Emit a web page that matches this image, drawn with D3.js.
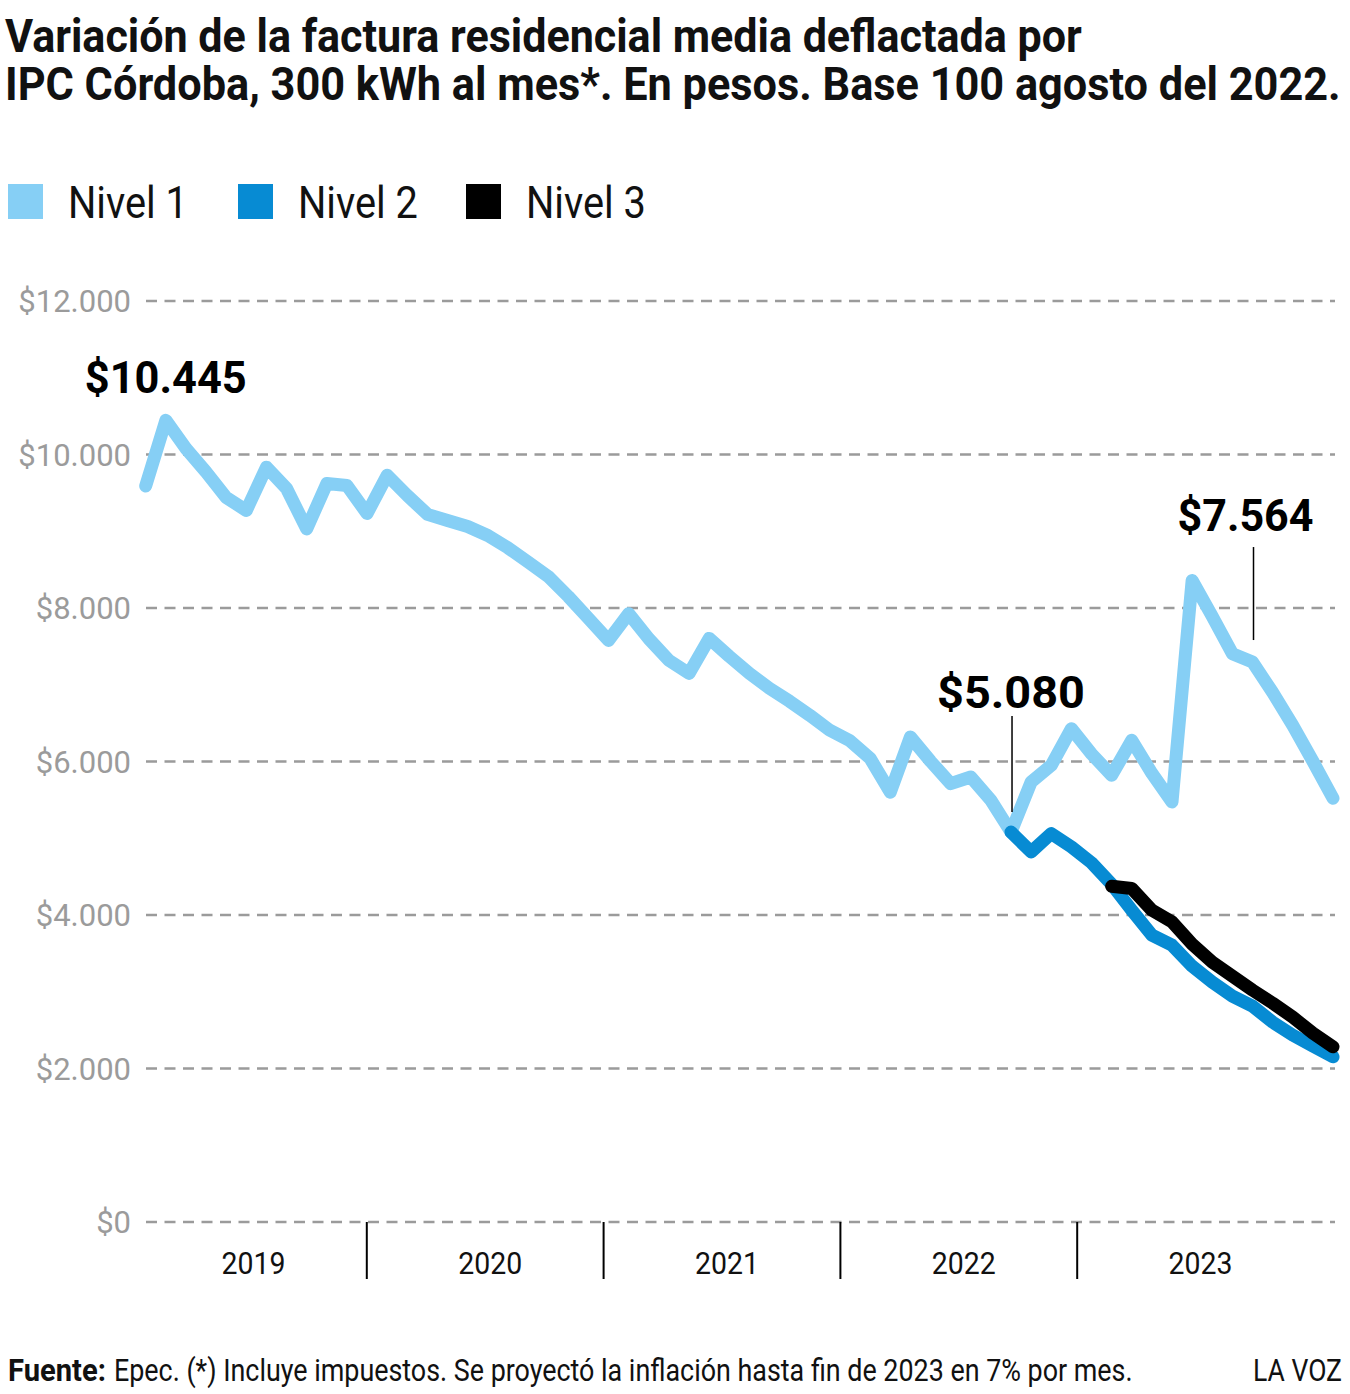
<!DOCTYPE html>
<html>
<head>
<meta charset="utf-8">
<script src="https://cdn.jsdelivr.net/npm/d3@7"></script>
<style>
  body { margin: 0; background: #fff; }
  svg { display: block; font-family: Roboto, "Noto Sans", sans-serif; }
</style>
</head>
<body>
<svg id="chart" width="1350" height="1394"></svg>
<script>
// data (monthly, Jan 2019 - Dec 2023)
const years = ["2019", "2020", "2021", "2022", "2023"];
const yTicks = [0, 2000, 4000, 6000, 8000, 10000, 12000];

const nivel1 = [
  9590, 10445, 10078, 9771, 9440, 9271, 9835, 9557, 9030, 9622, 9596, 9232,
  9730, 9466, 9220, 9140, 9062, 8945, 8784, 8600, 8411, 8150, 7865, 7578,
  7926, 7599, 7318, 7148, 7604, 7370, 7148, 6953, 6784, 6602, 6406, 6270,
  6040, 5600, 6319, 6003, 5712, 5798, 5495, 5080, 5733, 5950, 6428, 6100,
  5820, 6276, 5846, 5473, 8359, 7890, 7405, 7296, 6900, 6471, 6003, 5521
];
// Nivel 2 from Aug 2022, Nivel 3 from Jan 2023
const nivel2Start = "2022-08";
const nivel2 = [5080, 4822, 5061, 4888, 4681, 4401, 4062, 3737, 3607, 3333,
  3125, 2943, 2812, 2604, 2435, 2292, 2152];
const nivel3Start = "2023-01";
const nivel3 = [4375, 4345, 4062, 3910, 3620, 3385, 3203, 3021, 2852, 2669,
  2461, 2283];

const callouts = [
  { label: "$10.445", month: "2019-02", value: 10445 },
  { label: "$5.080", month: "2022-08", value: 5080 },
  { label: "$7.564", month: "2023-08", value: 7296 }
];

const titleLines = [
  "Variación de la factura residencial media deflactada por",
  "IPC Córdoba, 300 kWh al mes*. En pesos. Base 100 agosto del 2022."
];
const seriesNames = ["Nivel 1", "Nivel 2", "Nivel 3"];
const colors = ["#86cff5", "#078bd3", "#000000"];

const months = years.flatMap(y => d3.range(1, 13).map(m => y + "-" + String(m).padStart(2, "0")));

function toPoints(values, start) {
  const i0 = months.indexOf(start);
  return values.map((v, i) => ({ month: months[i0 + i], value: v }));
}
const series = [
  toPoints(nivel1, months[0]),
  toPoints(nivel2, nivel2Start),
  toPoints(nivel3, nivel3Start)
];

const svg = d3.select("#chart");

// squeeze text horizontally to a measured width (the original face is condensed)
function fit(sel, w) {
  sel.each(function () {
    const len = this.getComputedTextLength();
    const ax = +this.getAttribute("x");
    const s = w / len;
    d3.select(this).attr("transform",
      "translate(" + ax + ",0) scale(" + s + ",1) translate(" + (-ax) + ",0)");
  });
  return sel;
}

const x = d3.scalePoint().domain(months).range([145.7, 1333]);
const y = d3.scaleLinear().domain([0, 12000]).range([1222, 301]);
const yearBand = d3.scaleBand().domain(years).range([130, 1314]);

// title
const titleW = [1077, 1336];
svg.append("g").selectAll("text")
  .data(titleLines)
  .enter().append("text")
  .attr("x", 5)
  .attr("y", (d, i) => 52 + i * 48)
  .attr("font-size", 46)
  .attr("font-weight", 700)
  .attr("fill", "#111")
  .text(d => d)
  .each(function (d, i) { fit(d3.select(this), titleW[i]); });

// legend
const legX = [8, 238, 466];
const leg = svg.append("g").selectAll("g")
  .data(seriesNames)
  .enter().append("g")
  .attr("transform", (d, i) => "translate(" + legX[i] + ",184)");
leg.append("rect")
  .attr("width", 35).attr("height", 35)
  .attr("fill", (d, i) => colors[i]);
leg.append("text")
  .attr("x", 60).attr("y", 34)
  .attr("font-size", 44)
  .attr("fill", "#111")
  .text(d => d)
  .each(function () { fit(d3.select(this), 120); });

// grid + y labels
const grid = svg.append("g");
grid.selectAll("line")
  .data(yTicks)
  .enter().append("line")
  .attr("x1", 146).attr("x2", 1335)
  .attr("y1", d => y(d)).attr("y2", d => y(d))
  .attr("stroke", "#9b9b9b")
  .attr("stroke-width", 2.5)
  .attr("stroke-dasharray", "11,7.5");
grid.selectAll("text")
  .data(yTicks)
  .enter().append("text")
  .attr("x", 131)
  .attr("y", d => y(d) + 11)
  .attr("text-anchor", "end")
  .attr("font-size", 31)
  .attr("fill", "#9b9b9b")
  .text(d => "$" + d3.format(",")(d).replace(/,/g, "."));

// x axis: year separators and labels
const xa = svg.append("g");
xa.selectAll("line")
  .data(years.slice(1))
  .enter().append("line")
  .attr("x1", d => yearBand(d)).attr("x2", d => yearBand(d))
  .attr("y1", 1222).attr("y2", 1279)
  .attr("stroke", "#000").attr("stroke-width", 2);
xa.selectAll("text")
  .data(years)
  .enter().append("text")
  .attr("x", d => yearBand(d) + yearBand.bandwidth() / 2 + 5)
  .attr("y", 1274)
  .attr("text-anchor", "middle")
  .attr("font-size", 31)
  .attr("fill", "#111")
  .text(d => d)
  .each(function () { fit(d3.select(this), 64); });

// lines
const line = d3.line()
  .x(d => x(d.month))
  .y(d => y(d.value));
const widths = [13, 13, 13];
svg.append("g").selectAll("path")
  .data(series)
  .enter().append("path")
  .attr("d", line)
  .attr("fill", "none")
  .attr("stroke", (d, i) => colors[i])
  .attr("stroke-width", (d, i) => widths[i])
  .attr("stroke-linecap", "round")
  .attr("stroke-linejoin", "round");

// callouts
const calloutLayout = {
  "$10.445": { dx: 0, dy: -27, w: 162, pointer: null },
  "$5.080": { dx: 0, dy: -124, w: 148, pointer: [-116, -20] },
  "$7.564": { dx: -7, dy: -131, w: 136, pointer: [-115, -22] }
};
const co = svg.append("g").selectAll("g")
  .data(callouts)
  .enter().append("g");
co.append("text")
  .attr("x", d => x(d.month) + calloutLayout[d.label].dx)
  .attr("y", d => y(d.value) + calloutLayout[d.label].dy)
  .attr("text-anchor", "middle")
  .attr("font-size", 45)
  .attr("font-weight", 700)
  .attr("fill", "#000")
  .text(d => d.label)
  .each(function (d) { fit(d3.select(this), calloutLayout[d.label].w); });
co.filter(d => calloutLayout[d.label].pointer)
  .append("line")
  .attr("x1", d => x(d.month) + 1).attr("x2", d => x(d.month) + 1)
  .attr("y1", d => y(d.value) + calloutLayout[d.label].pointer[0])
  .attr("y2", d => y(d.value) + calloutLayout[d.label].pointer[1])
  .attr("stroke", "#000").attr("stroke-width", 1.5);

// footer
fit(svg.append("text")
  .attr("x", 8).attr("y", 1381)
  .attr("font-size", 31).attr("font-weight", 700).attr("fill", "#111")
  .text("Fuente:"), 98);
fit(svg.append("text")
  .attr("x", 114).attr("y", 1381)
  .attr("font-size", 31).attr("fill", "#111")
  .text("Epec. (*)  Incluye impuestos. Se proyectó la inflación hasta fin de 2023 en 7% por mes."), 1019);
fit(svg.append("text")
  .attr("x", 1342).attr("y", 1381)
  .attr("text-anchor", "end")
  .attr("font-size", 31).attr("fill", "#111")
  .text("LA VOZ"), 89);
</script>
</body>
</html>
